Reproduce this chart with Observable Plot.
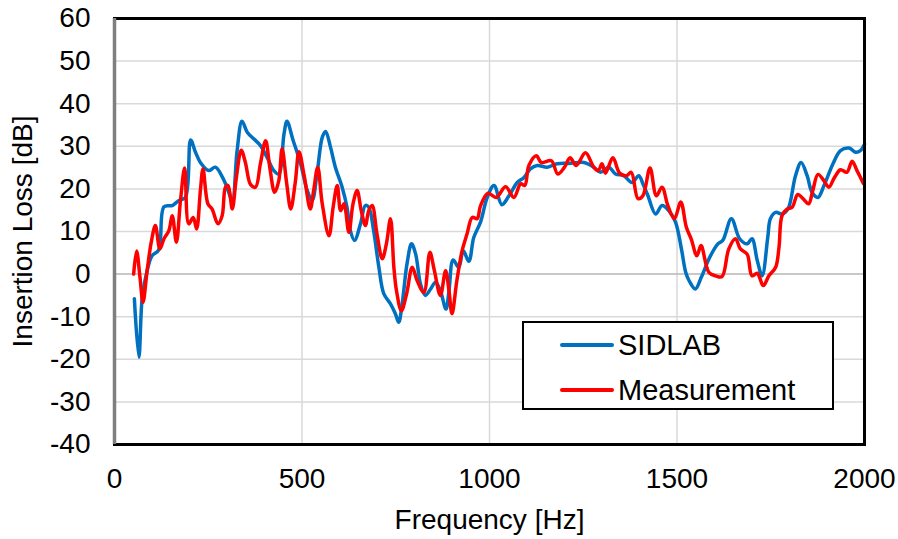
<!DOCTYPE html>
<html>
<head>
<meta charset="utf-8">
<script src="https://cdn.jsdelivr.net/npm/d3@7"></script>
<script src="https://cdn.jsdelivr.net/npm/@observablehq/plot@0.6"></script>
<style>
  body { margin: 0; background: #fff; }
  #wrap { position: relative; width: 898px; height: 539px; font-family: "Liberation Sans", Arial, sans-serif; }
  #legend { position: absolute; left: 522px; top: 321px; width: 308px; height: 85px; border: 2.5px solid #000; background: #fff; }
  .item { position: absolute; left: 36px; height: 34px; display: flex; align-items: center; font-size: 29px; color: #000; }
  .sw { width: 54px; height: 4px; margin-right: 4px; border-radius: 2px; }
</style>
</head>
<body>
<div id="wrap"></div>
<script>
// SIDLAB (simulation) insertion loss [dB] vs frequency [Hz]
const sidlabFreq = [53,65,74,87,100,118,132,154,172,189,203,216,229,251,269,287,300,314,327,340,354,372,389,407,425,438,452,460,476,496,514,527,540,554,563,576,589,607,620,629,640,656,669,678,691,705,718,736,749,758,767,780,792,803,816,829,843,856,869,884,892,903,918,930,945,958,976,994,1012,1033,1052,1074,1092,1109,1127,1154,1180,1216,1252,1278,1296,1318,1336,1358,1380,1398,1410,1422,1443,1460,1478,1496,1512,1523,1532,1549,1565,1587,1609,1622,1645,1667,1687,1700,1714,1727,1742,1749,1763,1780,1796,1816,1831,1847,1860,1876,1892,1916,1936,1959,1976,1989,2000];
const sidlabIL = [-5.8,-19.5,-5.4,0.8,4.3,5.7,15.8,16.1,17.3,18,31.5,28.6,26.2,24.3,25.1,22.9,20.4,17.3,29,35.9,33.3,31.7,30.2,27.4,24.3,23.5,32.9,35.9,31.5,26,19.6,17.3,23.5,32.1,33.5,29.8,25.1,20.4,15.7,10.2,7.9,11.8,16.1,15.7,10.2,1.6,-4.6,-7.0,-9.3,-11.3,-7.0,2.4,7.1,4.7,-2.3,-5.0,-3.5,-1.9,-3.9,-8.2,-3.9,3.3,1.6,5.5,3.0,8.6,12.2,18,20.8,16.3,18.4,21.5,22.7,24.7,25.5,25.1,25.9,26.0,26.2,25.1,23.9,25.1,23.5,23.1,21.5,23.1,21,18.5,14.1,16.1,14.9,12.2,5.8,0.5,-1.5,-3.5,-0.7,3.9,7.1,7.9,13.0,8.3,7.1,8.3,3.2,-0.4,8.6,13.0,14.5,14.1,15.3,23.1,26.2,23.1,19.2,18.0,20.8,25.9,29.0,29.6,28.6,29,30.5];

// Measurement insertion loss [dB] vs frequency [Hz]
const measFreq = [51,59,68,76,87,98,109,121,132,145,154,165,176,187,198,210,219,229,236,249,260,276,287,296,303,314,325,338,349,363,376,389,403,414,427,438,447,459,470,482,492,506,522,531,542,554,572,583,594,603,612,625,636,647,658,669,678,687,700,714,725,736,745,752,765,779,794,807,825,841,853,869,883,892,900,913,927,940,954,967,976,996,1018,1043,1065,1083,1094,1105,1125,1138,1165,1182,1200,1215,1231,1256,1278,1290,1300,1309,1329,1347,1365,1378,1396,1409,1428,1445,1460,1476,1493,1510,1525,1538,1553,1564,1585,1603,1620,1638,1656,1669,1687,1700,1714,1730,1745,1763,1772,1780,1794,1807,1822,1836,1851,1862,1876,1892,1905,1920,1936,1953,1967,1980,1997];
const measIL = [0,5.4,-0.8,-6.6,0.8,7.5,11.4,5.9,8.3,10.2,13.7,7.5,17.3,24.9,11.8,13.3,10.6,19.6,24.7,16.5,15.3,11.8,13.7,20.4,20.8,15.3,22.7,29.1,26.2,21,20.4,25.9,31.3,25.1,19.2,21.9,29.4,21.4,15.3,21.5,28.7,23,15.3,19.6,25.1,16.5,9.0,15.7,20.8,14.9,16.5,9.8,16.5,19.6,14.9,11.4,14.9,16.1,9.4,3.6,7.1,13.0,1.6,-3.9,-8.6,-4.6,1.6,-1.5,-4.3,5.1,0.8,-5.0,0.8,-3.9,-9.3,-1.5,5.5,9.4,13.3,13.0,16,19,18,20.5,18.0,21.2,20.8,25.5,27.8,26.2,26.6,23.5,25.1,27.3,25.5,28.5,25.1,24.3,25.9,23.7,27.3,23.7,23.1,23.9,17.7,18.4,24.9,18.4,20.4,16,13.0,16.9,11,8.2,4.3,6.7,0.4,-0.4,-0.6,5.9,8.3,5.9,4.7,-0.4,0.2,-2.7,-0.4,1.6,6.3,13.7,15.3,15.7,18.7,17.7,16.5,19.6,23.4,21.9,20.4,22.7,24.5,23.9,26.5,24.3,21.3];

const xTicks = [0, 500, 1000, 1500, 2000];
const xGrid = [500, 1000, 1500];
const yTicks = [-40, -30, -20, -10, 0, 10, 20, 30, 40, 50, 60];
const seriesNames = ["SIDLAB", "Measurement"];
const seriesColors = ["#0070C0", "#FF0000"];

const sidlab = sidlabFreq.map((f, i) => ({f, v: sidlabIL[i]}));
const meas = measFreq.map((f, i) => ({f, v: measIL[i]}));

const chart = Plot.plot({
  width: 898,
  height: 539,
  marginLeft: 114,
  marginRight: 34,
  marginTop: 18,
  marginBottom: 95,
  style: {fontFamily: "'Liberation Sans', Arial, sans-serif", fontSize: "29px", color: "#000", background: "#fff"},
  x: {domain: [0, 2000]},
  y: {domain: [-40, 60]},
  marks: [
    Plot.ruleY(yTicks, {stroke: "#d9d9d9", strokeWidth: 1.5}),
    Plot.ruleX(xGrid, {stroke: "#d9d9d9", strokeWidth: 1.5}),
    Plot.ruleY([0], {stroke: "#bfbfbf", strokeWidth: 1.5}),
    Plot.axisY({ticks: yTicks, tickSize: 0, tickPadding: 24, fontSize: 28, tickFormat: d => String(d), label: "Insertion Loss [dB]", labelAnchor: "center", labelOffset: 102, labelArrow: "none"}),
    Plot.axisX({ticks: xTicks, tickSize: 0, tickPadding: 24, fontSize: 28, tickFormat: d => String(d), label: "Frequency [Hz]", labelAnchor: "center", labelOffset: 84, labelArrow: "none"}),
    Plot.line(sidlab, {x: "f", y: "v", stroke: seriesColors[0], strokeWidth: 3.5, curve: "catmull-rom"}),
    Plot.line(meas, {x: "f", y: "v", stroke: seriesColors[1], strokeWidth: 3.5, curve: "catmull-rom"}),
    Plot.frame({stroke: "#000", strokeWidth: 3}),
    Plot.ruleX([0], {stroke: "#7f7f7f", strokeWidth: 3.5})
  ]
});

const wrap = document.getElementById("wrap");
wrap.appendChild(chart);

const legend = document.createElement("div");
legend.id = "legend";
seriesNames.forEach((name, i) => {
  const item = document.createElement("div");
  item.className = "item";
  item.style.top = (5 + i * 45) + "px";
  const sw = document.createElement("div");
  sw.className = "sw";
  sw.style.background = seriesColors[i];
  const t = document.createElement("span");
  t.textContent = name;
  item.appendChild(sw);
  item.appendChild(t);
  legend.appendChild(item);
});
wrap.appendChild(legend);
</script>
</body>
</html>
